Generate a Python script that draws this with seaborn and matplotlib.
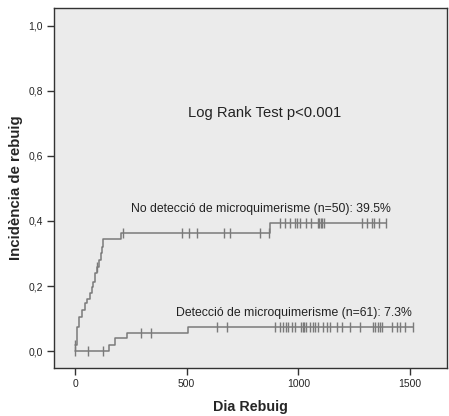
import numpy as np
import pandas as pd
import seaborn as sns
import matplotlib.pyplot as plt

# step curves (event day, cumulative incidence after the event)
no_det_days = [0, 7, 18, 30, 45, 55, 67, 75, 82, 90, 97, 109, 115, 121, 127, 206, 873, 1393]
no_det_inc = [0.02, 0.075, 0.106, 0.126, 0.147, 0.16, 0.178, 0.198, 0.213, 0.239, 0.259, 0.28, 0.30, 0.321, 0.344, 0.364, 0.395, 0.395]
no_det_cens = [0, 97, 213, 478, 512, 545, 667, 694, 828, 868, 918, 940, 963, 985, 994, 1008,
               1034, 1057, 1088, 1095, 1102, 1108, 1115, 1285, 1307, 1330, 1339, 1361, 1393]

det_days = [0, 154, 179, 231, 507, 1516]
det_inc = [0.0, 0.018, 0.039, 0.056, 0.074, 0.074]
det_cens = [0, 60, 127, 294, 339, 634, 679, 896, 918, 933, 945, 955, 970, 985, 1014, 1020, 1027,
            1034, 1052, 1064, 1074, 1089, 1112, 1127, 1142, 1172, 1194, 1231, 1276, 1336, 1345,
            1355, 1366, 1373, 1418, 1440, 1455, 1477, 1515]

x_ticks = [0, 500, 1000, 1500]
y_ticks = [0.0, 0.2, 0.4, 0.6, 0.8, 1.0]


def step_at(days, inc, t):
    idx = np.searchsorted(days, t, side='right') - 1
    return np.array(inc)[np.clip(idx, 0, None)]


sns.set_style("ticks")
plt.rcParams['font.family'] = ['Liberation Sans', 'DejaVu Sans']

fig = plt.figure(figsize=(4.49, 4.16), dpi=100)
ax = fig.add_axes([0.1203, 0.1154, 0.8752, 0.8656])
ax.set_facecolor('#ebebeb')

line_color = '#7a7a7a'
for days, inc, cens in [(no_det_days, no_det_inc, no_det_cens), (det_days, det_inc, det_cens)]:
    curve = pd.DataFrame({'day': days, 'inc': inc})
    sns.lineplot(data=curve, x='day', y='inc', ax=ax, color=line_color, linewidth=1.1,
                 drawstyle='steps-post', estimator=None, sort=False)
    cdf = pd.DataFrame({'day': cens, 'inc': step_at(days, inc, cens)})
    sns.scatterplot(data=cdf, x='day', y='inc', ax=ax, marker='|', s=45, color=line_color,
                    linewidth=1.0)

ax.text(850, 0.732, 'Log Rank Test p<0.001', fontsize=10.6, ha='center', va='center', color='#222222')
ax.text(250, 0.437, 'No detecció de microquimerisme (n=50): 39.5%', fontsize=8.8,
        ha='left', va='center', color='#222222')
ax.text(453, 0.118, 'Detecció de microquimerisme (n=61): 7.3%', fontsize=8.8,
        ha='left', va='center', color='#222222')

ax.set_xlim(-94, 1666)
ax.set_ylim(-0.052, 1.055)
ax.set_xticks(x_ticks)
ax.set_xticklabels([str(t) for t in x_ticks], fontsize=7.5)
ax.set_yticks(y_ticks)
ax.set_yticklabels([f'{t:.1f}'.replace('.', ',') for t in y_ticks], fontsize=7.5)
ax.tick_params(length=5, width=1, color='#333333', pad=3)
for s in ax.spines.values():
    s.set_color('#333333')
    s.set_linewidth(1.0)

ax.set_xlabel('Dia Rebuig', fontsize=10.3, fontweight='bold', labelpad=8)
ax.set_ylabel('Incidència de rebuig', fontsize=10.8, fontweight='bold', labelpad=4)

fig.savefig('out.png', dpi=100)
plt.close(fig)
